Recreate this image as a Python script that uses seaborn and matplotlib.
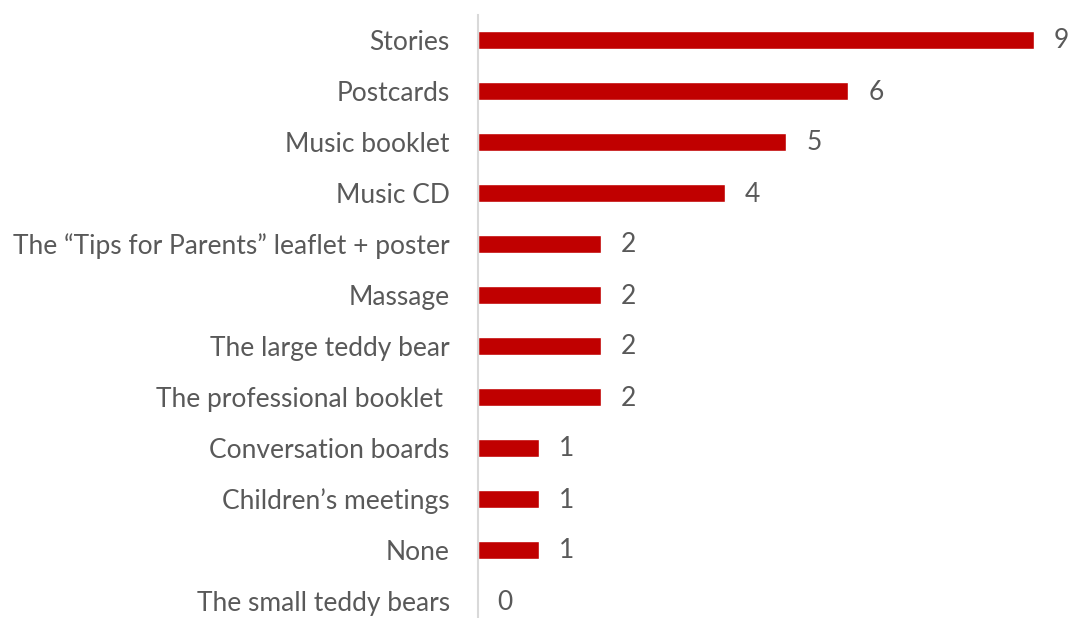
import matplotlib
matplotlib.use("Agg")
import matplotlib.pyplot as plt
import seaborn as sns
import pandas as pd

categories = [
    "Stories",
    "Postcards",
    "Music booklet",
    "Music CD",
    "The \u201cTips for Parents\u201d leaflet + poster",
    "Massage",
    "The large teddy bear",
    "The professional booklet ",
    "Conversation boards",
    "Children\u2019s meetings",
    "None",
    "The small teddy bears",
]
counts = [9, 6, 5, 4, 2, 2, 2, 2, 1, 1, 1, 0]

df = pd.DataFrame({"item": categories, "count": counts})

sns.set_theme(style="white")
plt.rcParams["font.family"] = ["Lato", "DejaVu Sans"]

W, H = 1071, 618
fig = plt.figure(figsize=(W / 100, H / 100), dpi=100)
left_px, top_px, band = 477.5, 14.5, 51.0
bottom_px = top_px + band * len(categories)
ax = fig.add_axes([left_px / W, 1 - bottom_px / H, 1 - left_px / W, (bottom_px - top_px) / H])

sns.barplot(data=df, y="item", x="count", color="#C00000", width=0.36,
            saturation=1, ax=ax, orient="h")

unit = (1034 - 478) / 9
ax.set_xlim(0, (W - left_px) / unit)
ax.set_ylim(len(categories) - 0.5, -0.5)

text_col = "#595959"
fs = 19
for i, v in enumerate(counts):
    ax.annotate(str(v), xy=(v, i), xytext=(20, -1), textcoords="offset pixels",
                va="center", ha="left", fontsize=fs, color=text_col)

ax.set_xlabel("")
ax.set_ylabel("")
ax.set_xticks([])
ax.tick_params(axis="y", length=0, pad=20, labelsize=fs, labelcolor=text_col)
for side in ["top", "right", "bottom"]:
    ax.spines[side].set_visible(False)
ax.spines["left"].set_color("#D9D9D9")
ax.spines["left"].set_linewidth(1.5)

fig.savefig("out.png", dpi=100, facecolor="white")
